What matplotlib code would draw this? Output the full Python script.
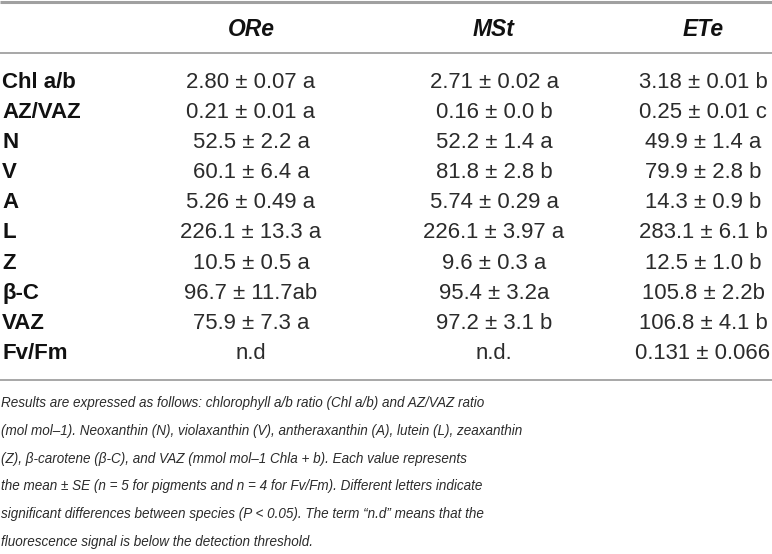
import matplotlib
matplotlib.use("Agg")
import matplotlib.pyplot as plt

columns = ["ORe", "MSt", "ETe"]
row_labels = ["Chl a/b", "AZ/VAZ", "N", "V", "A", "L", "Z", "β-C", "VAZ", "Fv/Fm"]
ore_vals = ["2.80 ± 0.07 a", "0.21 ± 0.01 a", "52.5 ± 2.2 a", "60.1 ± 6.4 a", "5.26 ± 0.49 a",
            "226.1 ± 13.3 a", "10.5 ± 0.5 a", "96.7 ± 11.7ab", "75.9 ± 7.3 a", "n.d"]
mst_vals = ["2.71 ± 0.02 a", "0.16 ± 0.0 b", "52.2 ± 1.4 a", "81.8 ± 2.8 b", "5.74 ± 0.29 a",
            "226.1 ± 3.97 a", "9.6 ± 0.3 a", "95.4 ± 3.2a", "97.2 ± 3.1 b", "n.d."]
ete_vals = ["3.18 ± 0.01 b", "0.25 ± 0.01 c", "49.9 ± 1.4 a", "79.9 ± 2.8 b", "14.3 ± 0.9 b",
            "283.1 ± 6.1 b", "12.5 ± 1.0 b", "105.8 ± 2.2b", "106.8 ± 4.1 b", "0.131 ± 0.066"]
caption = [
    "Results are expressed as follows: chlorophyll a/b ratio (Chl a/b) and AZ/VAZ ratio",
    "(mol mol\u20131). Neoxanthin (N), violaxanthin (V), antheraxanthin (A), lutein (L), zeaxanthin",
    "(Z), β-carotene (β-C), and VAZ (mmol mol\u20131 Chla + b). Each value represents",
    "the mean ± SE (n = 5 for pigments and n = 4 for Fv/Fm). Different letters indicate",
    "significant differences between species (P < 0.05). The term \u201cn.d\u201d means that the",
    "fluorescence signal is below the detection threshold.",
]

W, H = 772, 554
fig = plt.figure(figsize=(W / 100, H / 100), dpi=100)
ax = fig.add_axes([0, 0, 1, 1])
ax.set_xlim(0, W)
ax.set_ylim(H, 0)
ax.axis("off")

plt.rcParams["font.family"] = ["Liberation Sans", "DejaVu Sans"]
col_x = [251, 494, 703]
line_col = "#a0a0a0"
txt_col = "#2b2b2b"

# rules
ax.plot([0, W], [1.5, 1.5], color=line_col, lw=2.2, solid_capstyle="butt")
ax.plot([0, W], [53, 53], color=line_col, lw=1.3, solid_capstyle="butt")
ax.plot([0, W], [380, 380], color=line_col, lw=1.3, solid_capstyle="butt")

for x, name in zip(col_x, columns):
    ax.text(x, 29, name, ha="center", va="center", fontsize=16.5,
            fontweight="bold", fontstyle="italic", color="#111111")

y0, dy = 82.5, 30.1
for i, lab in enumerate(row_labels):
    y = y0 + i * dy
    ax.text(2, y, lab, ha="left", va="center", fontsize=16, fontweight="bold", color="#111111")
    for x, vals in zip(col_x, [ore_vals, mst_vals, ete_vals]):
        ax.text(x, y, vals[i], ha="center", va="center", fontsize=15.9, color=txt_col)

# caption, sized so the lines span the same width as the original
for j, line in enumerate(caption):
    ax.text(1, 403 + j * 27.8, line, ha="left", va="center", fontsize=9.75,
            fontstyle="italic", color=txt_col)

fig.savefig("out.png", dpi=100)
